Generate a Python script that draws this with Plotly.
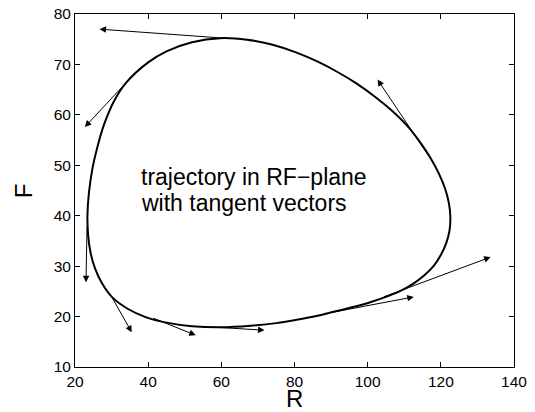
import plotly.graph_objects as go

# Closed trajectory in the R-F plane (counterclockwise, starting at the top)
traj_R = [59.7, 52.0, 45.0, 40.0, 34.0, 30.8, 28.0, 26.0, 24.8, 23.8, 23.4, 23.6, 24.3, 25.5,
          27.3, 30.2, 34.5, 39.3, 45.0, 52.0, 60.0, 68.0, 75.0, 81.0, 86.0, 91.0, 96.0,
          100.5, 104.6, 108.7, 112.6, 115.5, 118.0, 120.0, 121.5, 122.4, 122.6, 122.2,
          121.2, 119.5, 117.3, 114.5, 110.7, 106.5, 102.0, 97.0, 92.0, 86.5, 80.4, 74.0,
          67.0, 59.7]
traj_F = [75.2, 74.4, 72.6, 70.4, 66.4, 62.9, 58.2, 53.3, 49.5, 44.5, 40.0, 36.0, 32.5, 29.5,
          26.7, 23.8, 21.5, 19.9, 18.8, 18.1, 17.9, 18.2, 18.7, 19.4, 20.1, 21.0, 21.9,
          22.8, 23.8, 25.0, 26.6, 28.2, 30.0, 32.2, 34.6, 37.2, 39.8, 42.5,
          45.3, 48.3, 51.3, 54.4, 57.9, 60.9, 63.6, 66.2, 68.4, 70.5, 72.4, 73.9,
          74.9, 75.2]

# Tangent vectors: tail (on curve) and head
vec_R0 = [61.0, 34.0, 23.3, 29.8, 41.0, 58.0, 90.0, 104.0, 117.0]
vec_F0 = [75.2, 66.4, 38.0, 24.2, 19.8, 17.9, 20.8, 23.8, 51.5]
vec_R1 = [26.7, 22.7, 23.0, 35.5, 53.0, 71.8, 112.6, 133.6, 102.7]
vec_F1 = [77.0, 57.6, 26.8, 16.9, 16.3, 17.3, 23.9, 31.8, 67.0]

label_lines = ["trajectory in RF\u2212plane", "with tangent vectors"]
label_R = [37.6, 37.6]
label_F = [47.6, 42.5]

x_ticks = [20, 40, 60, 80, 100, 120, 140]
y_ticks = [10, 20, 30, 40, 50, 60, 70, 80]

FONT = "Liberation Sans, Arial, Helvetica, sans-serif"

fig = go.Figure()
fig.add_trace(go.Scatter(x=traj_R, y=traj_F, mode="lines",
                         line=dict(color="black", width=2, shape="spline", smoothing=0.9),
                         hoverinfo="skip", showlegend=False))

for r0, f0, r1, f1 in zip(vec_R0, vec_F0, vec_R1, vec_F1):
    fig.add_annotation(x=r1, y=f1, ax=r0, ay=f0, xref="x", yref="y", axref="x", ayref="y",
                       text="", showarrow=True, arrowhead=2, arrowsize=1.3,
                       arrowwidth=1, arrowcolor="black", standoff=0, startstandoff=0)

for txt, r, f in zip(label_lines, label_R, label_F):
    fig.add_annotation(x=r, y=f, xref="x", yref="y", text=txt, showarrow=False,
                       xanchor="left", yanchor="middle",
                       font=dict(family=FONT, size=23, color="black"))

# axis titles
fig.add_annotation(x=0.5, y=-0.09, xref="paper", yref="paper", text="R", showarrow=False,
                   xanchor="center", yanchor="middle",
                   font=dict(family=FONT, size=24, color="black"))
fig.add_annotation(x=-0.117, y=0.5, xref="paper", yref="paper", text="F", showarrow=False,
                   xanchor="center", yanchor="middle", textangle=-90,
                   font=dict(family=FONT, size=24, color="black"))

axis_common = dict(showline=True, linecolor="black", linewidth=1, mirror="ticks",
                   ticks="inside", ticklen=5, tickcolor="black", showgrid=False,
                   zeroline=False, automargin=False, ticklabeloverflow="allow",
                   tickfont=dict(family=FONT, size=15.5, color="black"))

fig.update_xaxes(range=[20, 140], tickvals=x_ticks, ticktext=[str(v) for v in x_ticks],
                 **axis_common)
fig.update_yaxes(range=[10, 80], tickvals=y_ticks, ticktext=[str(v) for v in y_ticks],
                 **axis_common)

# The page body has an 8px default margin, so the figure is placed to compensate;
# the right margin leaves room for the last x tick label.
fig.update_layout(template="none", width=535, height=404,
                  margin=dict(l=67, r=29, t=6, b=45, autoexpand=False),
                  plot_bgcolor="white", paper_bgcolor="white", showlegend=False)

fig.write_html("out.html")
